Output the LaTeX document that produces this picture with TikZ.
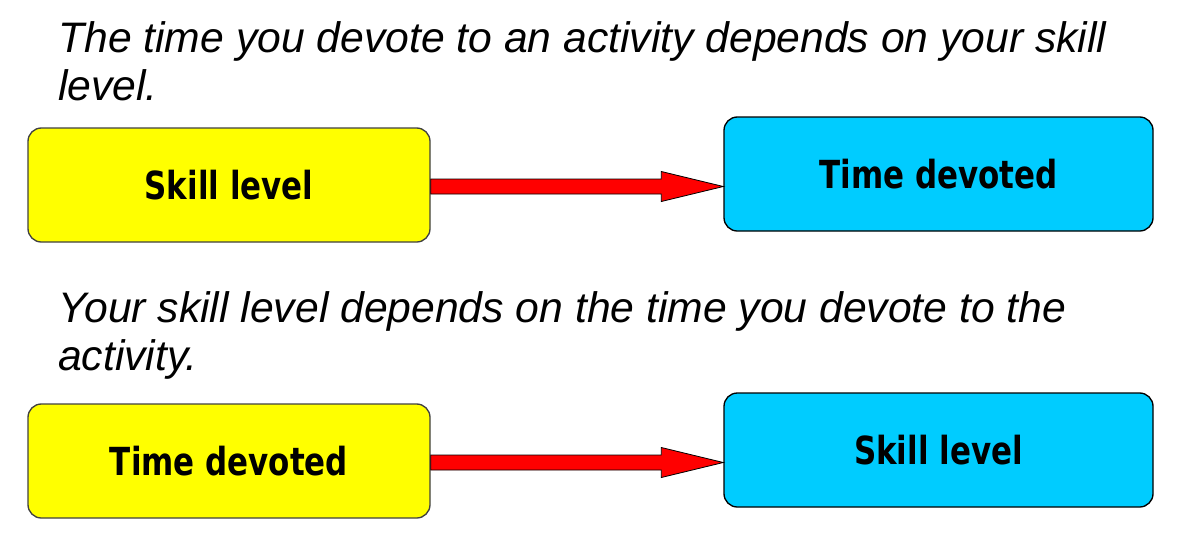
\documentclass[tikz,border=0pt]{standalone}
\usepackage{fontspec}
\setmainfont{Liberation Sans}
\newfontfamily\boxfont[FakeStretch=0.8]{DejaVu Sans}
\usetikzlibrary{positioning,calc}
\definecolor{causecolor}{HTML}{FFFF00}
\definecolor{effectcolor}{HTML}{00CCFF}
\definecolor{arrowcolor}{HTML}{FF0000}
\definecolor{edgecolor}{HTML}{404040}

\tikzset{
  stmt/.style={anchor=north west, inner sep=0pt, align=left,
    font=\fontsize{32}{36}\selectfont\itshape},
  cause/.style={draw=edgecolor, line width=1pt, rounded corners=10pt, fill=causecolor,
    minimum width=301.5pt, minimum height=85.5pt, font=\boxfont\bfseries\fontsize{29}{34}\selectfont},
  effect/.style={cause, draw=black, fill=effectcolor, minimum width=321.75pt},
  fatarrow/.style={draw=black, line width=0.6pt, fill=arrowcolor}
}

\begin{document}
\begin{tikzpicture}[x=0.75pt,y=-0.75pt]
\useasboundingbox (0,0) rectangle (1184,547);

% first reading
\node[stmt] (txtA) at (58,21) {The time you devote to an activity depends on your skill\\level.};
\node[cause] (skA) at (229,185) {Skill level};
\node[effect] (tdA) at (938.5,174) {Time devoted};
\coordinate (tailA) at ($(skA.east)+(0,1.5)$);
\coordinate (tipA) at (tailA -| tdA.west);
\draw[fatarrow] ($(tailA)+(0,-7.5)$) -- ($(tipA)+(-62,-7.5)$) -- ($(tipA)+(-62,-15)$) -- (tipA)
  -- ($(tipA)+(-62,15)$) -- ($(tipA)+(-62,7.5)$) -- ($(tailA)+(0,7.5)$) -- cycle;

% second reading
\node[stmt] (txtB) at (58,291) {Your skill level depends on the time you devote to the\\activity.};
\node[cause] (tdB) at (229,461) {Time devoted};
\node[effect] (skB) at (938.5,450) {Skill level};
\coordinate (tailB) at ($(tdB.east)+(0,1.5)$);
\coordinate (tipB) at (tailB -| skB.west);
\draw[fatarrow] ($(tailB)+(0,-7.5)$) -- ($(tipB)+(-62,-7.5)$) -- ($(tipB)+(-62,-15)$) -- (tipB)
  -- ($(tipB)+(-62,15)$) -- ($(tipB)+(-62,7.5)$) -- ($(tailB)+(0,7.5)$) -- cycle;
\end{tikzpicture}
\end{document}
